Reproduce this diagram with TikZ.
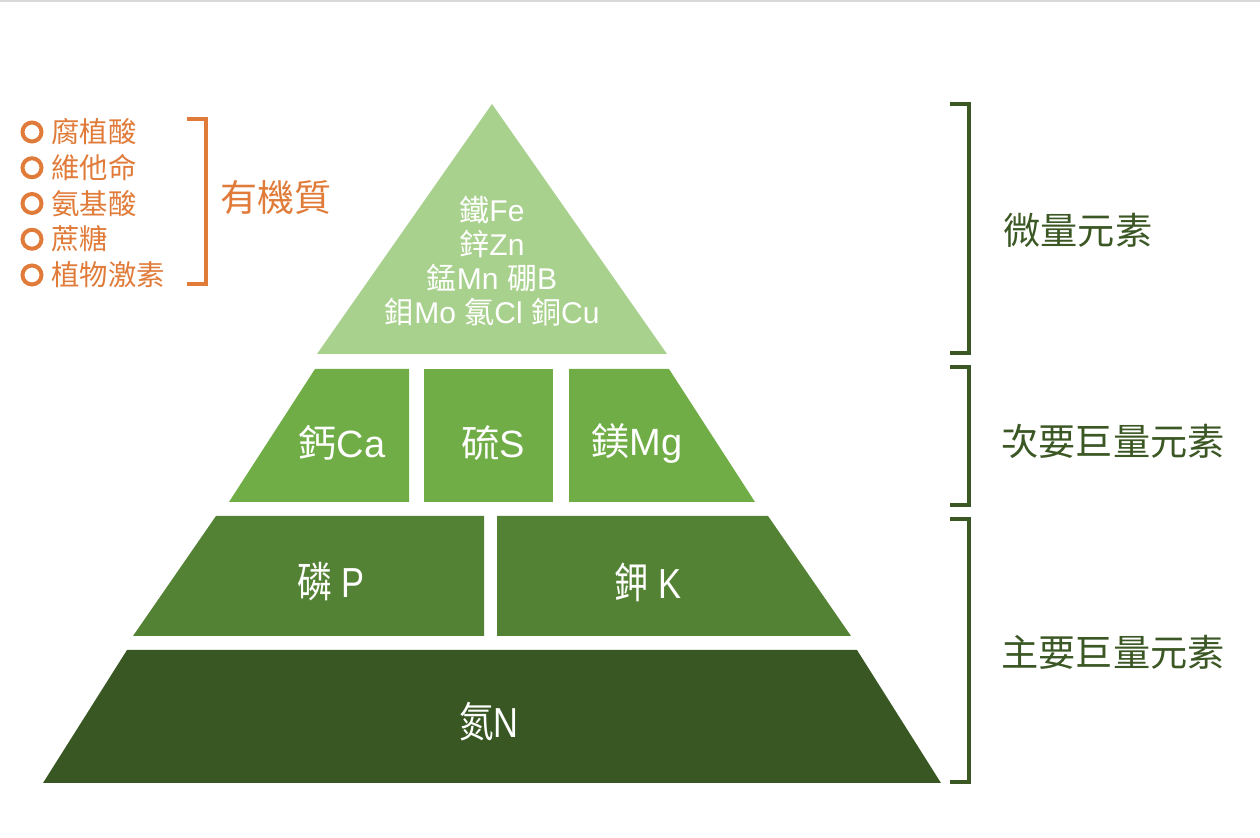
\documentclass[tikz,border=0pt]{standalone}
\usepackage{fontspec}
\setmainfont{Liberation Sans}
\newfontfamily\cjk{Noto Sans CJK TC}
\usepackage{tikz}
\usetikzlibrary{positioning}
\definecolor{microGreen}{HTML}{A9D18E}
\definecolor{midGreen}{HTML}{70AD47}
\definecolor{macroGreen}{HTML}{548235}
\definecolor{baseGreen}{HTML}{385723}
\definecolor{organicOrange}{HTML}{E07B39}
\definecolor{labelGreen}{HTML}{3B5724}
\newcommand{\zh}[1]{{\cjk #1}}
\newcommand{\narrow}[1]{\scalebox{0.82}[1]{#1}}

\begin{document}
\begin{tikzpicture}[x=0.5pt,y=-0.5pt,
    orglist/.style={anchor=west, inner sep=0pt, text=organicOrange, font=\fontsize{14.2}{16}\selectfont\cjk},
    bulletring/.style={circle, draw=organicOrange, line width=2pt, minimum size=9.5pt, inner sep=0pt},
    tierlbl/.style={text=white, inner sep=0pt, font=\fontsize{19}{22}\selectfont},
    widelbl/.style={text=white, inner sep=0pt, font=\fontsize{21}{24}\selectfont},
    sidelbl/.style={anchor=west, inner sep=0pt, text=labelGreen, font=\fontsize{18.6}{20}\selectfont\cjk},
    brace/.style={line width=2pt}]
\useasboundingbox (0,0) rectangle (1260,838);
\fill[gray!30] (0,0) rectangle (1260,2.5);

% pyramid
\fill[microGreen] (492,104) -- (667,354) -- (317,354) -- cycle;
\fill[midGreen] (315,369) -- (409,369) -- (409,502) -- (229,502) -- cycle;
\fill[midGreen] (424,369) rectangle (553,502);
\fill[midGreen] (569,369) -- (669,369) -- (755,502) -- (569,502) -- cycle;
\fill[macroGreen] (216,516) -- (484,516) -- (484,636) -- (133,636) -- cycle;
\fill[macroGreen] (497,516) -- (768,516) -- (851,636) -- (497,636) -- cycle;
\fill[baseGreen] (127,650) -- (857,650) -- (941,783) -- (43,783) -- cycle;

\node[text=white, align=center, inner sep=0pt, font=\fontsize{15}{17}\selectfont] (micro) at (492,261)
    {\zh{鐵}Fe\\\zh{鋅}Zn\\\zh{錳}Mn \zh{硼}B\\\zh{鉬}Mo \zh{氯}Cl \zh{銅}Cu};
\node[tierlbl] (ca) at (342,443) {\zh{鈣}Ca};
\node[tierlbl] (s) at (493,443) {\zh{硫}S};
\node[tierlbl] (mg) at (637,443) {\zh{鎂}Mg};
\node[widelbl] (p) at (331,582) {\narrow{\zh{磷} P}};
\node[widelbl] (k) at (648,582) {\narrow{\zh{鉀} K}};
\node[widelbl] (n) at (489,722) {\narrow{\zh{氮}N}};

% organic matter
\foreach \t [count=\i] in {腐植酸,維他命,氨基酸,蔗糖,植物激素} {
    \node[bulletring] (dot\i) at (32,{132+35.75*(\i-1)}) {};
    \node[orglist] (org\i) at (51,{132+35.75*(\i-1)}) {\t};
}
\coordinate (bt) at (187,119);
\coordinate (bb) at (187,284);
\draw[brace, organicOrange] (bt) -- ++(19,0) |- (bb);
\node[text=organicOrange, inner sep=0pt, font=\fontsize{18.5}{20}\selectfont\cjk] (organic) at (276,198) {有機質};

% element groups
\coordinate (r1t) at (950,104);
\coordinate (r1b) at (950,353);
\coordinate (r2t) at (950,367);
\coordinate (r2b) at (950,505);
\coordinate (r3t) at (950,519);
\coordinate (r3b) at (950,782);
\draw[brace, labelGreen] (r1t) -- ++(19,0) |- (r1b);
\draw[brace, labelGreen] (r2t) -- ++(19,0) |- (r2b);
\draw[brace, labelGreen] (r3t) -- ++(19,0) |- (r3b);
\node[sidelbl] (trace) at (1003,230) {微量元素};
\node[sidelbl] (second) at (1001,441) {次要巨量元素};
\node[sidelbl] (primary) at (1001,652) {主要巨量元素};
\end{tikzpicture}
\end{document}
